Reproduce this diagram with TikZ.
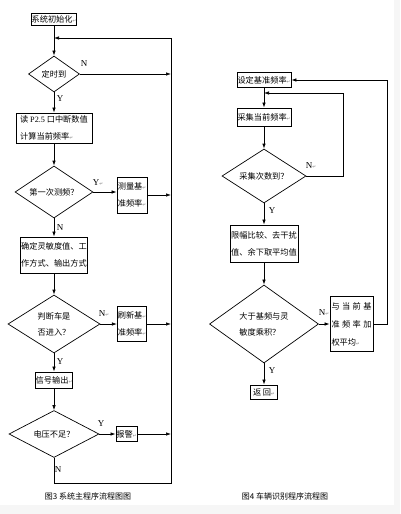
\documentclass[tikz,border=0pt]{standalone}
\usepackage{fontspec}
\newfontfamily\cjk{Noto Sans CJK SC}
\newfontfamily\lat{Liberation Serif}
\newfontfamily\symf{DejaVu Sans}
\usetikzlibrary{shapes.geometric,arrows.meta}
\newcommand\pmk{{\symf\fontsize{4.5}{5}\selectfont\textcolor{gray}{↵}}}
\begin{document}
\begin{tikzpicture}[x=1pt,y=-1pt,
 box/.style={draw, line width=0.8pt, inner sep=0.5pt, font=\cjk\fontsize{8.2}{17}\selectfont, align=left},
 dia/.style={draw, diamond, line width=0.7pt, inner sep=0pt, aspect=1.5, font=\cjk\fontsize{8.2}{16}\selectfont, align=left},
 lab/.style={font=\lat\fontsize{9}{10}\selectfont, inner sep=0pt},
 arr/.style={-{Latex[length=5pt,width=3.5pt]}, line width=0.7pt},
 ln/.style={line width=0.7pt},
 captxt/.style={font=\cjk\fontsize{8}{10}\selectfont, inner sep=0pt}]
\useasboundingbox (0,0) rectangle (400,514);
\fill[white] (0,0) rectangle (400,514);
\fill[gray!7] (394,0) rectangle (400,514);
\fill[gray!7] (0,505) rectangle (400,514);

% left chart
\node[box, minimum width=44pt, minimum height=12pt] (init) at (54,19) {系统初始化\pmk};
\node[dia, minimum width=51pt, minimum height=36pt] (d1) at (54,74) {定时到};
\node[box, minimum width=76pt, minimum height=30pt] (b2) at (54,128) {读 {\lat P2.5} 口中断数值\\计算当前频率\pmk};
\node[dia, minimum width=78pt, minimum height=52pt] (d2) at (54,192) {第一次测频？};
\node[box, minimum width=30pt, minimum height=36pt] (b3) at (132,195) {测量基\pmk\\准频率\pmk};
\node[box, minimum width=67pt, minimum height=36pt] (b4) at (54,255) {确定灵敏度值、工\\作方式、输出方式};
\node[dia, minimum width=92pt, minimum height=58pt] (d3) at (54,324) {判断车是\\否进入？};
\node[box, minimum width=29pt, minimum height=35pt] (b5) at (132,324) {刷新基\pmk\\准频率\pmk};
\node[box, minimum width=37pt, minimum height=16pt] (b6) at (54,380) {信号输出\pmk};
\node[dia, minimum width=90pt, minimum height=47pt] (d4) at (54,434) {电压不足？};
\node[box, minimum width=21pt, minimum height=15pt] (b7) at (126.5,434) {报警\pmk};

\coordinate (top) at (54,38);
\coordinate (rt) at (171,38);
\coordinate (rb) at (171,483);
\coordinate (lb) at (54,483);

\draw[arr] (init) -- (d1);
\draw[arr] (d1.east) -- (d1.east -| rt);
\draw[arr] (d1) -- (b2);
\draw[arr] (b2) -- (d2);
\draw[arr] (d2.east) -- (b3.west |- d2.east);
\draw[arr] (b3.east) -- (b3.east -| rt);
\draw[arr] (d2) -- (b4);
\draw[arr] (b4) -- (d3);
\draw[arr] (d3.east) -- (b5.west |- d3.east);
\draw[arr] (b5.east) -- (b5.east -| rt);
\draw[arr] (d3) -- (b6);
\draw[arr] (b6) -- (d4);
\draw[arr] (d4.east) -- (b7.west);
\draw[arr] (b7.east) -- (b7.east -| rt);
\draw[arr] (d4.south) -- (lb) -- (rb) -- (rt) -- (top);

\node[lab] (l1) at (84,64) {N};
\node[lab] (l2) at (60,99) {Y};
\node[lab] (l3) at (98,183) {Y\pmk};
\node[lab] (l4) at (60,228) {N};
\node[lab] (l5) at (104,314) {N\pmk};
\node[lab] (l6) at (60,362) {Y};
\node[lab] (l7) at (101,424) {Y};
\node[lab] (l8) at (58,470) {N};

% right chart
\node[box, minimum width=54pt, minimum height=15pt] (r1) at (264,80) {设定基准频率\pmk};
\node[box, minimum width=53pt, minimum height=18pt] (r2) at (264,117) {采集当前频率\pmk};
\node[dia, minimum width=84pt, minimum height=54pt] (rd1) at (264,176) {采集次数到？};
\node[box, minimum width=68pt, minimum height=37pt] (r3) at (264,243.5) {限幅比较、去干扰\\值、余下取平均值};
\node[dia, minimum width=109pt, minimum height=78pt, aspect=1.4] (rd2) at (264,324) {大于基频与灵\\敏度乘积？};
\node[box, minimum width=43pt, minimum height=55pt, font=\cjk\fontsize{8.2}{18}\selectfont] (r4) at (351.5,324)
 {\hbox to 40pt{与\hfill 当\hfill 前\hfill 基}\\\hbox to 40pt{准\hfill 频\hfill 率\hfill 加}\\权平均\pmk};
\node[box, minimum width=27pt, minimum height=14pt] (r5) at (264,392) {返\,回\pmk};

\coordinate (ra) at (387,80);
\coordinate (rc) at (387,324);
\coordinate (ia) at (343,93);
\coordinate (im) at (264,93);

\draw[arr] (r4.east) -- (rc) -- (ra) -- (r1.east);
\draw[arr] (r1) -- (r2);
\draw[arr] (r2) -- (rd1);
\draw[arr] (rd1.east) -- (rd1.east -| ia) -- (ia) -- (im);
\draw[arr] (rd1) -- (r3);
\draw[arr] (r3) -- (rd2);
\draw[arr] (rd2.east) -- (r4.west);
\draw[arr] (rd2) -- (r5);

\node[lab] (m1) at (311,166) {N\pmk};
\node[lab] (m2) at (272,211) {Y};
\node[lab] (m3) at (324,313) {N\pmk};
\node[lab] (m4) at (272,371) {Y};

\node[captxt] (c1) at (88,496) {图3 系统主程序流程图图};
\node[captxt] (c2) at (285,496) {图4 车辆识别程序流程图};
\end{tikzpicture}
\end{document}
